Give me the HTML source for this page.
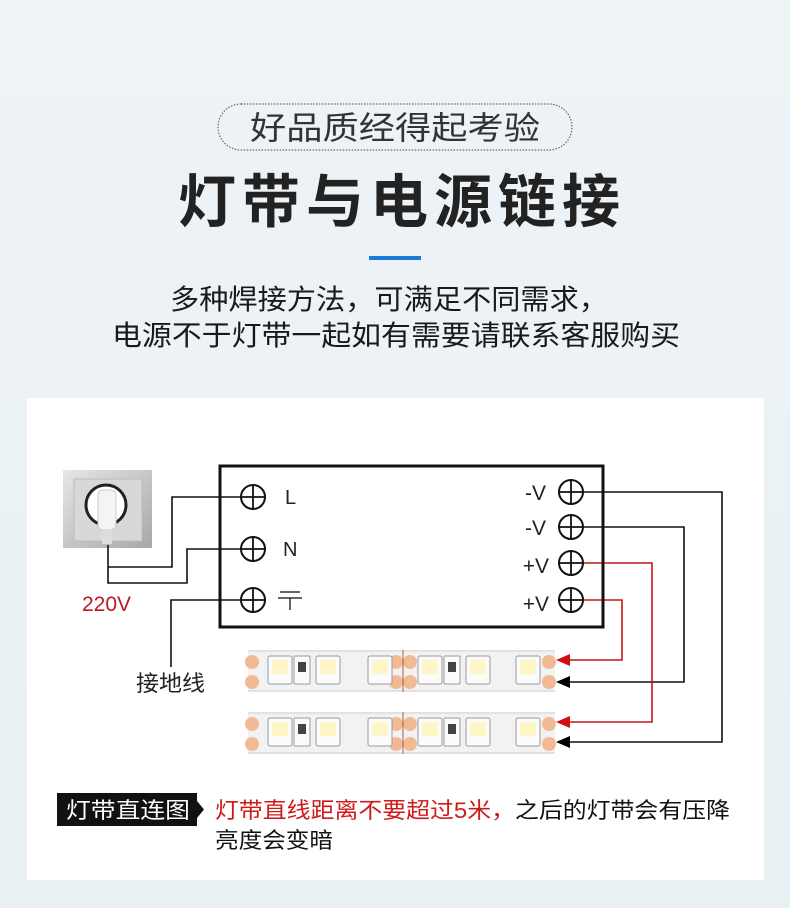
<!DOCTYPE html>
<html><head><meta charset="utf-8"><style>
html,body{margin:0;padding:0;background:#ebf1f5;}
svg{display:block}
text{font-family:"Liberation Sans","Noto Sans CJK SC",sans-serif;}
</style></head><body>
<svg width="790" height="908" viewBox="0 0 790 908" xmlns="http://www.w3.org/2000/svg">
<defs>
<linearGradient id="bg" x1="0" y1="0" x2="0" y2="1"><stop offset="0" stop-color="#eef3f6"/><stop offset="1" stop-color="#e8f0f4"/></linearGradient>
<linearGradient id="sk" x1="0" y1="0" x2="1" y2="1"><stop offset="0" stop-color="#e6e6e6"/><stop offset="1" stop-color="#a8a8a8"/></linearGradient>
<g id="strip">
<rect x="0" y="0" width="307" height="42" fill="#f2f2f2"/>
<rect x="0" y="0" width="307" height="2" fill="#e2e2e2"/>
<rect x="0" y="40" width="307" height="2" fill="#e2e2e2"/>
<circle cx="4" cy="12" r="7" fill="#f2b995"/><circle cx="4" cy="32" r="7" fill="#f2b995"/>
<circle cx="148" cy="12" r="7" fill="#f2b995"/><circle cx="148" cy="32" r="7" fill="#f2b995"/>
<circle cx="162" cy="12" r="7" fill="#f2b995"/><circle cx="162" cy="32" r="7" fill="#f2b995"/>
<circle cx="301" cy="12" r="7" fill="#f2b995"/><circle cx="301" cy="32" r="7" fill="#f2b995"/>
<g fill="#fbfbfb" stroke="#999" stroke-width="1">
<rect x="20" y="6" width="24" height="28" rx="2"/><rect x="68" y="6" width="24" height="28" rx="2"/>
<rect x="120" y="6" width="24" height="28" rx="2"/><rect x="170" y="6" width="24" height="28" rx="2"/>
<rect x="218" y="6" width="24" height="28" rx="2"/><rect x="268" y="6" width="24" height="28" rx="2"/>
<rect x="46" y="6" width="16" height="28" rx="1"/><rect x="196" y="6" width="16" height="28" rx="1"/>
</g>
<g fill="#fff6c8"><rect x="24" y="10" width="16" height="14"/><rect x="72" y="10" width="16" height="14"/><rect x="124" y="10" width="16" height="14"/><rect x="174" y="10" width="16" height="14"/><rect x="222" y="10" width="16" height="14"/><rect x="272" y="10" width="16" height="14"/></g>
<rect x="50" y="12" width="8" height="10" fill="#444"/><rect x="200" y="12" width="8" height="10" fill="#444"/>
<line x1="155" y1="0" x2="155" y2="42" stroke="#a06040" stroke-width="1"/>
</g>
<g id="term"><circle r="12" fill="#fff" stroke="#111" stroke-width="2"/><line x1="-12" y1="0" x2="12" y2="0" stroke="#111" stroke-width="1.8"/><line x1="0" y1="-12" x2="0" y2="12" stroke="#111" stroke-width="1.8"/></g>
</defs>
<rect width="790" height="908" fill="url(#bg)"/>
<rect x="218" y="104" width="354" height="46" rx="23" fill="none" stroke="#666" stroke-width="1.2" stroke-dasharray="1.5 1.5"/>
<text x="250" y="139" font-size="32" fill="#333" textLength="290" lengthAdjust="spacingAndGlyphs">好品质经得起考验</text>
<text x="178" y="222" font-size="58" font-weight="bold" fill="#222" textLength="442" lengthAdjust="spacing">灯带与电源链接</text>
<rect x="369" y="256" width="52" height="4" fill="#1a7ad8"/>
<text x="170" y="309" font-size="28" fill="#1a1a1a" textLength="438" lengthAdjust="spacingAndGlyphs">多种焊接方法，可满足不同需求，</text>
<text x="112" y="345" font-size="28" fill="#1a1a1a" textLength="568" lengthAdjust="spacingAndGlyphs">电源不于灯带一起如有需要请联系客服购买</text>
<rect x="27" y="398" width="737" height="482" fill="#fff"/>
<rect x="63" y="470" width="89" height="78" fill="url(#sk)"/>
<rect x="74" y="479" width="68" height="62" fill="#d8d8d8" stroke="#bbb"/>
<circle cx="106" cy="505" r="20" fill="#fff" stroke="#222" stroke-width="3"/>
<rect x="98" y="490" width="18" height="40" rx="5" fill="#f4f4f4" stroke="#ccc"/>
<rect x="102" y="530" width="10" height="14" fill="#ddd"/>
<g stroke="#111" stroke-width="1.6" fill="none">
<polyline points="241,497 172,497 172,567 108,567 108,545"/>
<polyline points="241,549 187,549 187,583 108,583 108,567"/>
<polyline points="241,600 171,600 171,667"/>
<polyline points="583,492 722,492 722,742 565,742"/>
<polyline points="583,527 684,527 684,682 565,682"/>
</g>
<g stroke="#c41818" stroke-width="1.6" fill="none">
<polyline points="583,563 652,563 652,722 565,722"/>
<polyline points="583,600 622,600 622,660 565,660"/>
</g>
<rect x="220" y="466" width="383" height="161" fill="none" stroke="#111" stroke-width="3"/>
<use href="#term" x="253" y="497"/><use href="#term" x="253" y="549"/><use href="#term" x="253" y="600"/>
<use href="#term" x="571" y="492"/><use href="#term" x="571" y="527"/><use href="#term" x="571" y="563"/><use href="#term" x="571" y="600"/>
<text x="285" y="504" font-size="20" fill="#222">L</text>
<text x="283" y="556" font-size="20" fill="#222">N</text>
<g stroke="#333" stroke-width="1.5"><line x1="280" y1="592" x2="300" y2="592"/><line x1="278" y1="598" x2="302" y2="598"/><line x1="290" y1="598" x2="290" y2="610"/></g>
<text x="546" y="500" text-anchor="end" font-size="21" fill="#222">-V</text>
<text x="546" y="535" text-anchor="end" font-size="21" fill="#222">-V</text>
<text x="549" y="573" text-anchor="end" font-size="21" fill="#222">+V</text>
<text x="549" y="611" text-anchor="end" font-size="21" fill="#222">+V</text>
<text x="82" y="611" font-size="21" fill="#b81c22">220V</text>
<text x="136" y="691" font-size="22" fill="#222" textLength="69" lengthAdjust="spacingAndGlyphs">接地线</text>
<use href="#strip" x="248" y="650"/><use href="#strip" x="248" y="712"/>
<g><polygon points="556,660 570,654 570,666" fill="#d01010"/><polygon points="556,682 570,676 570,688" fill="#000"/>
<polygon points="556,722 570,716 570,728" fill="#d01010"/><polygon points="556,742 570,736 570,748" fill="#000"/></g>
<rect x="57" y="793" width="140" height="33" fill="#111"/>
<polygon points="197,801 204,809.5 197,818" fill="#111"/>
<text x="66" y="818" font-size="22" fill="#fff" textLength="124" lengthAdjust="spacingAndGlyphs">灯带直连图</text>
<text x="215" y="818" font-size="22" fill="#d01a1a" textLength="300" lengthAdjust="spacingAndGlyphs">灯带直线距离不要超过5米，</text>
<text x="515" y="818" font-size="22" fill="#111" textLength="215" lengthAdjust="spacingAndGlyphs">之后的灯带会有压降</text>
<text x="215" y="848" font-size="22" fill="#111" textLength="118" lengthAdjust="spacingAndGlyphs">亮度会变暗</text>
</svg>
</body></html>
